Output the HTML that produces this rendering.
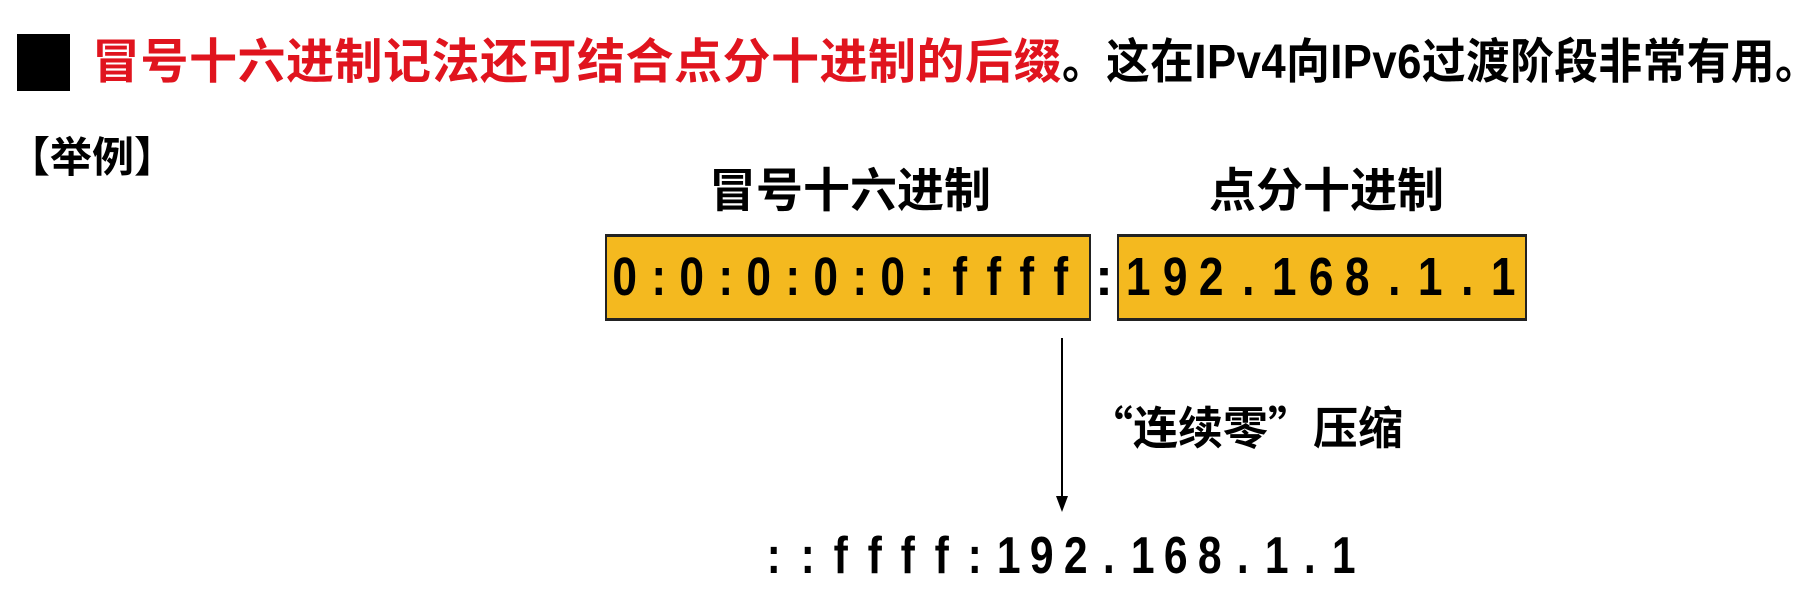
<!DOCTYPE html>
<html><head><meta charset="utf-8"><style>
body{margin:0;width:1813px;height:610px;background:#fff;position:relative;overflow:hidden;font-family:"Liberation Sans","Noto Sans CJK SC",sans-serif;font-weight:bold;color:#000}
.a{position:absolute;white-space:nowrap}
.box{position:absolute;background:#f4b91f;border:2px solid #222;border-top-width:3px;border-bottom-width:3px;box-sizing:border-box}
.row{position:absolute;display:flex}
.row span{display:inline-block;text-align:center;transform:scaleX(.82)}
.cjk{font-family:"Noto Sans CJK SC",sans-serif}
</style></head><body>
<div class="a" style="left:17px;top:34px;width:53px;height:57px;background:#000"></div>
<div class="a" style="left:92px;top:36px;font-size:48px;line-height:54px;letter-spacing:0.5px"><span style="color:#e0141e">冒号十六进制记法还可结合点分十进制的后缀</span><span style="display:inline-block;transform:scaleX(.91);transform-origin:left">。这在IPv4向IPv6过渡阶段非常有用。</span></div>
<div class="a" style="left:8px;top:132px;font-size:42px;line-height:52px">【举例】</div>
<div class="a" style="left:709px;top:164px;font-size:47px;line-height:54px">冒号十六进制</div>
<div class="a" style="left:1209px;top:164px;font-size:47px;line-height:54px">点分十进制</div>
<div class="box" style="left:605px;top:234px;width:486px;height:87px"></div>
<div class="box" style="left:1117px;top:234px;width:410px;height:87px"></div>
<div class="row" style="left:608px;top:245px;font-size:54px;line-height:64px">
<span style="width:33.5px">0</span><span style="width:33.5px">:</span><span style="width:33.5px">0</span><span style="width:33.5px">:</span><span style="width:33.5px">0</span><span style="width:33.5px">:</span><span style="width:33.5px">0</span><span style="width:33.5px">:</span><span style="width:33.5px">0</span><span style="width:33.5px">:</span><span style="width:33.5px">f</span><span style="width:33.5px">f</span><span style="width:33.5px">f</span><span style="width:33.5px">f</span></div>
<div class="a" style="left:1095px;top:245px;font-size:54px;line-height:64px">:</div>
<div class="row" style="left:1120px;top:245px;font-size:54px;line-height:64px">
<span style="width:36.5px">1</span><span style="width:36.5px">9</span><span style="width:36.5px">2</span><span style="width:36.5px">.</span><span style="width:36.5px">1</span><span style="width:36.5px">6</span><span style="width:36.5px">8</span><span style="width:36.5px">.</span><span style="width:36.5px">1</span><span style="width:36.5px">.</span><span style="width:36.5px">1</span></div>
<svg class="a" style="left:0;top:0" width="1813" height="610">
<line x1="1062" y1="338" x2="1062" y2="500" stroke="#000" stroke-width="2"/>
<polygon points="1056,496 1068,496 1062,512" fill="#000"/>
</svg>
<div class="a" style="left:1088px;top:398px;font-size:45px;line-height:54px"><span class="cjk">“</span>连续零<span class="cjk">”</span>压缩</div>
<div class="row" style="left:757px;top:528px;font-size:52px;line-height:56px">
<span style="width:33.5px">:</span><span style="width:33.5px">:</span><span style="width:33.5px">f</span><span style="width:33.5px">f</span><span style="width:33.5px">f</span><span style="width:33.5px">f</span><span style="width:33.5px">:</span><span style="width:33.5px">1</span><span style="width:33.5px">9</span><span style="width:33.5px">2</span><span style="width:33.5px">.</span><span style="width:33.5px">1</span><span style="width:33.5px">6</span><span style="width:33.5px">8</span><span style="width:33.5px">.</span><span style="width:33.5px">1</span><span style="width:33.5px">.</span><span style="width:33.5px">1</span></div>
</body></html>
